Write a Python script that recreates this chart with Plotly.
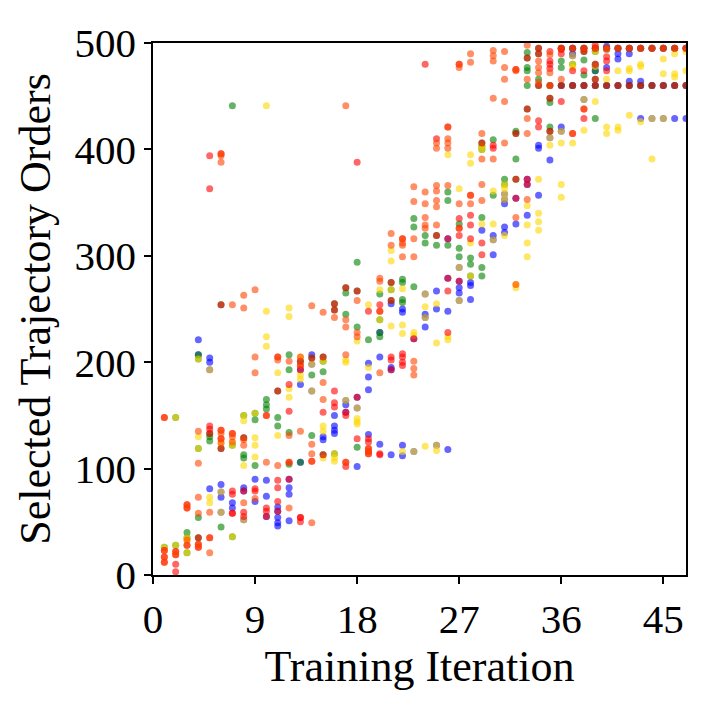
import plotly.graph_objects as go

# trajectory orders picked at each training iteration, one dict per colour series
# {iteration: [selected orders]}
blue_pts = {
    4: [221, 207], 5: [204, 200, 193, 81], 6: [85, 78, 73, 59], 7: [68, 63],
    8: [82, 79, 52], 9: [90, 69], 10: [89, 74, 55], 11: [64, 60, 54, 49, 46],
    12: [90, 82, 76, 51], 13: [193, 179, 106], 14: [207, 198, 173], 15: [130, 127],
    16: [150, 140, 136, 133], 17: [164, 160, 153], 18: [167, 157, 102],
    19: [199, 186, 174, 132], 20: [228, 205, 123], 21: [255, 195, 193, 113],
    22: [250, 247, 122, 112], 23: [222, 116], 24: [264, 245, 242, 233],
    25: [267, 250, 122], 26: [316, 279, 248, 118], 27: [289, 276, 270, 265, 258],
    28: [275, 272, 259], 29: [324], 30: [319, 315, 301],
    31: [358, 353, 349, 327, 322], 32: [354, 330], 33: [372, 367, 338],
    34: [404, 401, 357], 35: [411, 390], 36: [495, 460, 421, 417],
    37: [495, 490, 488, 460], 38: [495, 460, 447], 39: [495, 478, 474, 460],
    40: [497, 495, 494, 477, 460], 41: [495, 490, 485, 460], 42: [495, 490, 464, 460],
    43: [495, 464, 460, 429], 44: [495, 460, 429], 45: [495, 460, 429],
    46: [495, 460, 429], 47: [495, 460, 429],
}
green_pts = {
    1: [26], 2: [148, 28], 3: [40, 35, 21], 4: [207, 203, 119, 54, 35],
    5: [133, 130, 126], 6: [254, 119, 45], 7: [441, 122, 36], 8: [150, 129, 113, 110],
    9: [152, 146, 103], 10: [165, 160, 156], 11: [173, 148, 140], 12: [207, 193, 134, 104],
    13: [201, 106], 14: [204, 188, 131], 15: [205, 201, 191, 113], 16: [255, 249, 114],
    17: [270, 265, 245], 18: [294, 267, 233, 120], 19: [221], 20: [264, 240, 228, 224],
    21: [275, 268, 258], 22: [278, 275, 259, 256], 23: [335, 327, 271], 24: [319, 312],
    25: [319, 310], 26: [360, 352, 310], 27: [330, 307, 299], 28: [298, 292, 281],
    29: [406, 403, 400, 336, 289, 281], 30: [409, 357], 31: [372, 367],
    32: [417, 415, 391, 372], 33: [491, 486, 477, 474, 460, 438], 34: [495, 490, 466, 460],
    35: [460, 448, 444, 421, 417], 36: [495, 483, 477, 460], 37: [495, 480, 460],
    38: [495, 492, 484, 470, 460], 39: [495, 492, 480, 474, 466, 460, 429],
    40: [495, 460], 41: [495, 460], 42: [495, 460], 43: [495, 460], 44: [495, 460],
    45: [495, 460], 46: [495, 460], 47: [495, 460],
}
gold_pts = {
    1: [26], 2: [148, 28], 3: [35, 33, 21], 4: [203, 130, 119], 5: [193, 73, 68],
    6: [124, 78, 59], 7: [125, 122, 36], 8: [150, 145, 103, 52], 9: [152, 129, 122, 111],
    10: [441, 248, 224, 215], 11: [190, 131], 12: [251, 243, 175, 167], 13: [205, 188, 184],
    14: [198, 173], 15: [201, 140, 135, 110], 16: [114, 110, 107], 17: [202, 200, 164],
    18: [220, 157, 147, 144, 142], 19: [254, 195], 20: [268, 240], 21: [305, 295, 268, 234],
    22: [269, 235, 227, 116], 23: [228, 225, 116], 24: [264, 252, 242, 121],
    25: [255, 218, 122, 117], 26: [395, 224, 221], 27: [363, 289, 258],
    28: [395, 387, 312, 281], 29: [403, 400, 330], 30: [361, 330, 315],
    31: [367, 363, 358, 353, 319], 32: [273, 270], 33: [347, 329, 312, 299],
    34: [372, 340, 332, 324], 35: [411, 404], 36: [417, 406, 367, 355],
    37: [488, 480, 477, 406], 38: [447, 418], 39: [492, 478, 445], 40: [494, 466, 421, 415],
    41: [474, 421, 418], 42: [476, 474, 432], 43: [480, 478, 426], 44: [429, 391],
    45: [485, 471, 429], 46: [490, 471, 468], 47: [492, 474],
}
red_pts = {
    1: [148, 23, 17, 12], 2: [22, 19, 10, 3], 3: [66, 63, 28], 4: [35, 29, 26],
    5: [394, 363, 140, 137, 133, 35], 6: [396, 254, 136, 128, 119], 7: [133, 79, 76, 58, 58],
    8: [129, 79, 59, 55], 9: [81, 79], 10: [150, 63, 60, 55], 11: [205, 173, 89, 82, 69, 60],
    12: [179, 154, 106, 90], 13: [201, 197, 193, 54, 54, 50], 14: [204, 107],
    15: [205, 153, 113], 16: [255, 249, 173, 162, 158], 17: [270, 153, 150, 106, 102],
    18: [388, 267, 167, 128], 19: [248, 128, 125, 119, 116, 114], 20: [254, 248, 114, 113],
    21: [275, 258, 205, 202, 193], 22: [316, 208, 205, 200, 197], 23: [222], 24: [480],
    25: [410, 319], 26: [421, 316, 279, 267, 228], 27: [480, 335, 326, 319, 276],
    28: [357, 338, 329, 316], 29: [406, 312, 301], 30: [404, 401],
    32: [475, 415, 372, 354], 33: [486, 438, 372, 367], 34: [495, 490, 460, 427, 421],
    35: [492, 483, 480, 476, 460, 448, 417], 36: [495, 494, 490, 460, 445],
    37: [495, 474, 460, 415], 38: [495, 492, 474, 460, 438, 429], 39: [498, 495, 480, 466, 460],
    40: [495, 487, 483, 474, 460], 41: [495, 460], 42: [495, 460], 43: [495, 460],
    44: [495, 460], 45: [495, 460], 46: [495, 460], 47: [495, 460],
}
orange_pts = {
    1: [148, 23, 17, 12], 2: [22, 19], 3: [66, 63, 33, 28], 4: [135, 105, 73, 58, 29, 26],
    5: [59, 35, 21], 6: [396, 394, 388, 136, 133, 128, 124], 7: [254, 133, 130, 125],
    8: [263, 251, 127, 122, 68], 9: [268, 205, 190, 72], 10: [150, 106], 11: [205, 202, 103],
    12: [201, 131, 106, 63], 13: [205, 197, 135], 14: [253, 123, 114, 107, 49],
    15: [247, 181, 165], 16: [242], 17: [441, 240, 233, 207, 106], 18: [258, 228, 224],
    19: [119, 116, 114], 20: [279, 276, 248, 190], 21: [321, 310], 22: [316, 312, 310, 299],
    23: [365, 351, 316, 299, 201, 194, 188], 24: [360, 349, 336, 329, 326],
    25: [406, 401, 366, 361, 352, 346, 329], 26: [421, 410, 406, 401, 366],
    27: [480, 477, 349, 326], 28: [490, 482, 357, 349], 29: [415, 391, 367, 352],
    30: [493, 488, 483, 448, 391], 31: [492, 477, 466, 445, 406], 32: [475, 474, 336, 273],
    33: [498, 466, 429, 415, 353], 34: [483, 477, 472, 463], 35: [489, 472, 460],
    36: [495, 466], 37: [495, 415], 38: [495, 438], 39: [495], 40: [495], 41: [495],
    42: [495], 43: [495], 44: [495], 45: [495], 46: [495], 47: [495],
}

x_ticks = [0, 9, 18, 27, 36, 45]
y_ticks = [0, 100, 200, 300, 400, 500]

# drawing order matters for how the overlapping dots mix
series = [
    (blue_pts, "blue"),
    (green_pts, "green"),
    (gold_pts, "gold"),
    (red_pts, "red"),
    (orange_pts, "orangered"),
]

FONT = "Liberation Serif, Times New Roman, serif"

fig = go.Figure()
for pts, col in series:
    xs, ys = [], []
    for it, vals in pts.items():
        for v in vals:
            xs.append(it)
            ys.append(v)
    fig.add_trace(go.Scatter(
        x=xs, y=ys, mode="markers", showlegend=False, hoverinfo="skip",
        marker=dict(color=col, size=7, opacity=0.6, line=dict(width=0)),
    ))

axis_style = dict(
    showline=True, linecolor="black", linewidth=1.5, mirror=True,
    ticks="outside", ticklen=7, tickwidth=1.5, tickcolor="black",
    showgrid=False, zeroline=False,
    tickfont=dict(family=FONT, size=41, color="black"),
)
fig.update_xaxes(range=[0, 47], tickvals=x_ticks,
                 title=dict(text="Training Iteration", font=dict(family=FONT, size=44, color="black"), standoff=0),
                 **axis_style)
fig.update_yaxes(range=[0, 500], tickvals=y_ticks,
                 title=dict(text="Selected Trajectory Orders", font=dict(family=FONT, size=44, color="black"), standoff=10),
                 **axis_style)
# page body adds an 8px offset, so margins are shifted to land the axes where the original has them
fig.update_layout(
    width=707, height=706,
    margin=dict(l=145, r=29, t=27, b=139),
    plot_bgcolor="white", paper_bgcolor="white",
)
fig.write_html("out.html")
